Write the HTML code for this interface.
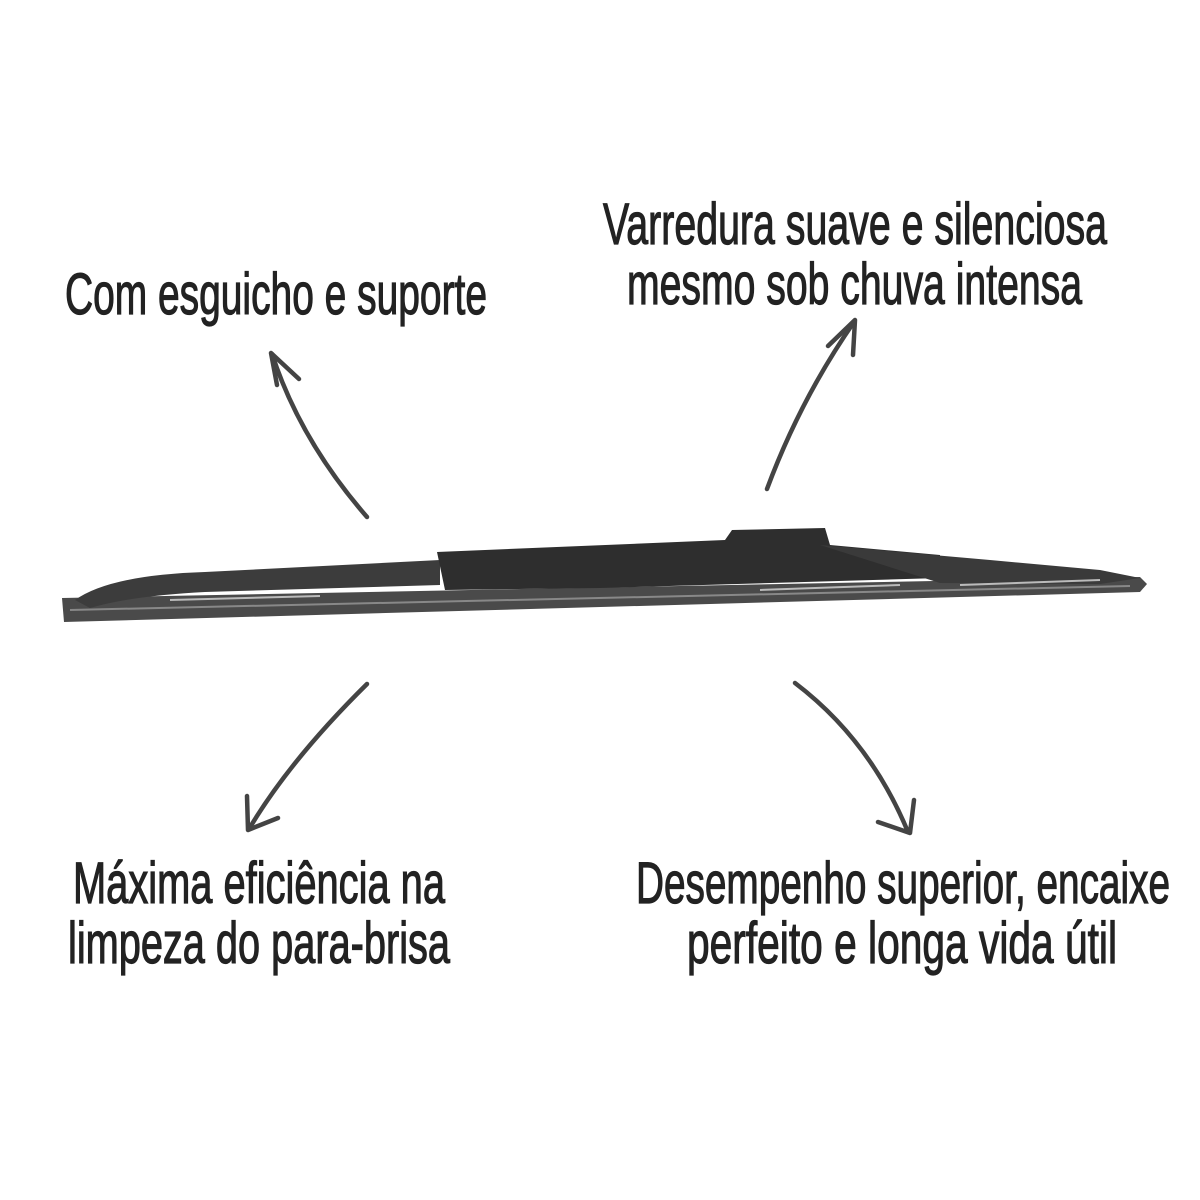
<!DOCTYPE html>
<html><head><meta charset="utf-8"><style>
html,body{margin:0;padding:0;background:#fff;}
svg{display:block;}
text{font-family:"Liberation Sans Narrow","Liberation Sans",sans-serif;font-size:58px;fill:#222;stroke:#222;stroke-width:1.2px;}
</style></head><body>
<svg width="1200" height="1200" viewBox="0 0 1200 1200" xmlns="http://www.w3.org/2000/svg">
<rect width="1200" height="1200" fill="#fff"/>
<text x="603" y="244" textLength="504" lengthAdjust="spacingAndGlyphs">Varredura suave e silenciosa</text>
<text x="627" y="304" textLength="455" lengthAdjust="spacingAndGlyphs">mesmo sob chuva intensa</text>
<text x="65" y="314" textLength="422" lengthAdjust="spacingAndGlyphs">Com esguicho e suporte</text>
<text x="73" y="903" textLength="372" lengthAdjust="spacingAndGlyphs">Máxima eficiência na</text>
<text x="68" y="963" textLength="382" lengthAdjust="spacingAndGlyphs">limpeza do para-brisa</text>
<text x="636" y="903" textLength="534" lengthAdjust="spacingAndGlyphs">Desempenho superior, encaixe</text>
<text x="687" y="963" textLength="430" lengthAdjust="spacingAndGlyphs">perfeito e longa vida útil</text>

<g fill="none" stroke="#444" stroke-width="4.5" stroke-linecap="round" stroke-linejoin="round">
<path d="M367 517 Q300 440 272 354"/>
<path d="M277 385 L271 353 L299 379"/>
<path d="M767 489 Q800 400 854 322"/>
<path d="M828 346 L855 320 L853 355"/>
<path d="M367 684 Q290 760 249 829"/>
<path d="M247 796 L248 830 L278 818"/>
<path d="M795 683 Q870 740 908 832"/>
<path d="M878 822 L910 833 L914 800"/>
</g>

<g>
<path d="M62 598 L1140 577 L1147 584 L1140 592 L64 622 Z" fill="#4a4a4a"/>
<path d="M70 610 L1130 586" stroke="#888" stroke-width="2"/>
<path d="M75 600 Q110 575 205 572 L440 560 L440 585 L205 592 Q130 596 90 608 Z" fill="#3c3c3c"/>
<path d="M437 552 L725 540 L732 530 L825 528 L830 545 L940 555 L940 578 L600 588 L445 590 Z" fill="#2e2e2e"/>
<path d="M820 545 L990 560 L1100 570 L1140 578 L1100 584 L940 583 Z" fill="#3a3a3a"/>
<path d="M170 600 L320 596" stroke="#bbb" stroke-width="2"/>
<path d="M760 590 L900 585" stroke="#bbb" stroke-width="2"/>
<path d="M960 585 L1100 580" stroke="#bbb" stroke-width="2"/>
</g>
</svg>
</body></html>
